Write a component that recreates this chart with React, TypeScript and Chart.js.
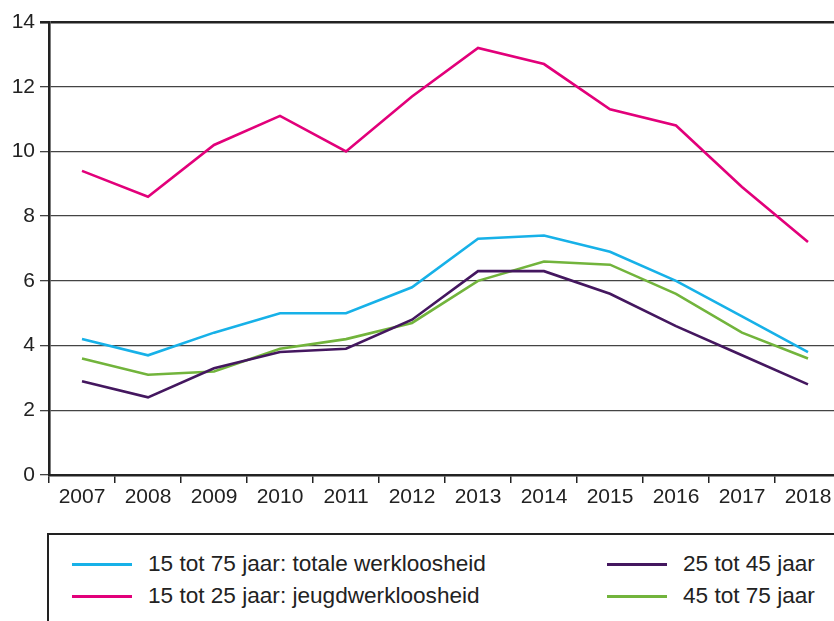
import React, { useEffect, useRef } from "react";
import { Chart, registerables } from "chart.js";

Chart.register(...registerables);

const years = ["2007", "2008", "2009", "2010", "2011", "2012", "2013", "2014", "2015", "2016", "2017", "2018"];
const totaal = [4.2, 3.7, 4.4, 5.0, 5.0, 5.8, 7.3, 7.4, 6.9, 6.0, 4.9, 3.8];
const jeugd = [9.4, 8.6, 10.2, 11.1, 10.0, 11.7, 13.2, 12.7, 11.3, 10.8, 8.9, 7.2];
const leeftijd25tot45 = [2.9, 2.4, 3.3, 3.8, 3.9, 4.8, 6.3, 6.3, 5.6, 4.6, 3.7, 2.8];
const leeftijd45tot75 = [3.6, 3.1, 3.2, 3.9, 4.2, 4.7, 6.0, 6.6, 6.5, 5.6, 4.4, 3.6];
const yTicks = [0, 2, 4, 6, 8, 10, 12, 14];

const labels = [
  "15 tot 75 jaar: totale werkloosheid",
  "15 tot 25 jaar: jeugdwerkloosheid",
  "25 tot 45 jaar",
  "45 tot 75 jaar",
];
const colors = ["#17b1e8", "#e2007a", "#44175f", "#72b43c"];

const FONT = "'Liberation Sans', Arial, sans-serif";

export default function App() {
  const ref = useRef<HTMLCanvasElement | null>(null);

  useEffect(() => {
    if (!ref.current) return;
    const chart = new Chart(ref.current, {
      type: "line",
      data: {
        labels: years,
        datasets: [
          { label: labels[0], data: totaal, borderColor: colors[0] },
          { label: labels[1], data: jeugd, borderColor: colors[1] },
          { label: labels[2], data: leeftijd25tot45, borderColor: colors[2] },
          { label: labels[3], data: leeftijd45tot75, borderColor: colors[3] },
        ].map((d) => ({ ...d, borderWidth: 2.6, pointRadius: 0, tension: 0, fill: false })),
      },
      options: {
        animation: false,
        responsive: false,
        devicePixelRatio: 1,
        layout: { padding: { top: 22, right: 1, left: 0, bottom: 0 } },
        plugins: { legend: { display: false }, tooltip: { enabled: false } },
        scales: {
          x: {
            type: "category",
            offset: true,
            grid: {
              display: true,
              drawOnChartArea: false,
              drawTicks: true,
              tickLength: 8,
              offset: true,
              color: "#222",
              lineWidth: 1.5,
            },
            border: { display: true, color: "#222", width: 2.6 },
            ticks: {
              color: "#222",
              font: { family: FONT, size: 21 },
              padding: 2,
              maxRotation: 0,
              autoSkip: false,
            },
            afterFit: (s: any) => {
              s.height = 45;
            },
          },
          y: {
            min: 0,
            max: 14,
            afterBuildTicks: (s: any) => {
              s.ticks = yTicks.map((v) => ({ value: v }));
            },
            grid: {
              color: (c: any) => (c.tick && c.tick.value === 14 ? "#222" : "#444"),
              lineWidth: (c: any) => (c.tick && c.tick.value === 14 ? 2.6 : 1.3),
              drawTicks: true,
              tickLength: 9,
            },
            border: { display: true, color: "#222", width: 2.6 },
            ticks: {
              color: "#222",
              font: { family: FONT, size: 21 },
              padding: 5,
            },
            afterFit: (s: any) => {
              s.width = 49;
            },
          },
        },
      },
    });
    return () => chart.destroy();
  }, []);

  const legendItems = [
    { i: 0, x: 72, y: 564 },
    { i: 1, x: 72, y: 596 },
    { i: 2, x: 607, y: 564 },
    { i: 3, x: 607, y: 596 },
  ];

  return (
    <div
      style={{
        position: "fixed",
        left: 0,
        top: 0,
        width: 834,
        height: 621,
        overflow: "hidden",
        background: "#fff",
      }}
    >
      <canvas ref={ref} width={842} height={520} style={{ position: "absolute", left: 0, top: 0, width: 842, height: 520 }} />
      <div
        style={{
          position: "absolute",
          left: 47,
          top: 533,
          width: 900,
          height: 200,
          borderTop: "2.6px solid #222",
          borderLeft: "2.6px solid #222",
          boxSizing: "border-box",
        }}
      />
      {legendItems.map((it) => (
        <React.Fragment key={it.i}>
          <div
            style={{
              position: "absolute",
              left: it.x,
              top: it.y - 1.5,
              width: 60,
              height: 3,
              background: colors[it.i],
            }}
          />
          <div
            style={{
              position: "absolute",
              left: it.x + 76,
              top: it.y - 14,
              height: 28,
              lineHeight: "28px",
              fontFamily: FONT,
              fontSize: 22.6,
              color: "#222",
              whiteSpace: "nowrap",
            }}
          >
            {labels[it.i]}
          </div>
        </React.Fragment>
      ))}
    </div>
  );
}
